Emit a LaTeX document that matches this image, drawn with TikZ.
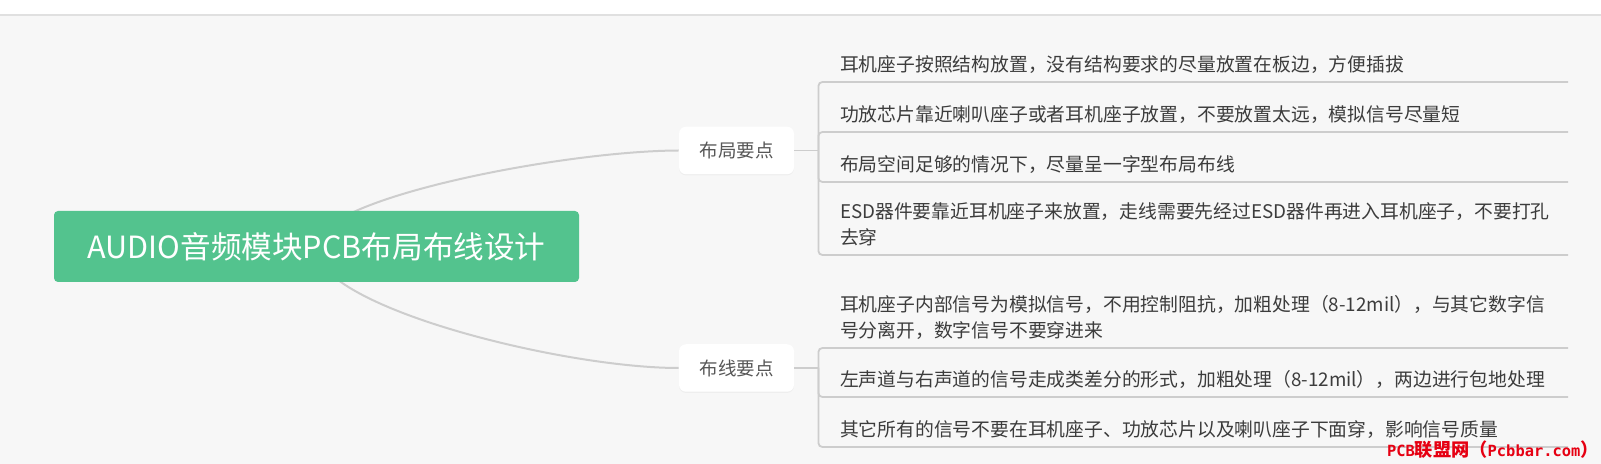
\documentclass[tikz,border=0pt]{standalone}
\usepackage{fontspec}
\newfontfamily\cjkfont{Noto Sans CJK SC}
\newfontfamily\monofont{DejaVu Sans Mono}
\usepackage{tikz}
\usetikzlibrary{positioning}
\usetikzlibrary{backgrounds}
\usetikzlibrary{shadows}

\definecolor{pagebg}{HTML}{F7F7F7}
\definecolor{bandline}{HTML}{E0E0E0}
\definecolor{rootgreen}{HTML}{53C38E}
\definecolor{linkgray}{HTML}{CDCDCD}
\definecolor{topictext}{HTML}{575757}
\definecolor{leaftext}{HTML}{3C3C3C}
\definecolor{markred}{HTML}{E60012}

\newcommand\leafstrut{\rule[-2.4pt]{0pt}{9pt}}
\newcommand\markmono{\monofont\bfseries\fontsize{7.7pt}{9pt}\selectfont}
\newcommand\markcjk{\cjkfont\bfseries\fontsize{9.1pt}{9pt}\selectfont}

\tikzset{
    root/.style={fill=rootgreen, rounded corners=2pt, text=white, minimum width=262.5pt, minimum height=35.5pt, inner sep=0pt, font=\cjkfont\fontsize{15.3pt}{18pt}\selectfont},
    topic/.style={fill=white, rounded corners=3.5pt, text=topictext, minimum width=57.5pt, minimum height=23.75pt, inner sep=0pt, font=\cjkfont\fontsize{9.25pt}{12pt}\selectfont, drop shadow={shadow xshift=0pt, shadow yshift=-0.6pt, opacity=0.07}},
    leaf/.style={anchor=south west, align=left, text width=353pt, inner xsep=11pt, inner ysep=2.6pt, outer sep=0pt, text=leaftext, font=\cjkfont\fontsize{9.4pt}{13pt}\selectfont, execute at end node=\leafstrut},
    link/.style={draw=linkgray, line width=1pt},
    leafline/.style={draw=linkgray, line width=0.9pt, rounded corners=2pt},
}

\begin{document}
\begin{tikzpicture}[x=0.5pt, y=-0.5pt]
    \useasboundingbox (0,0) rectangle (1601,464);

    \node [root] (root) at (316.5,246.5) {AUDIO音频模块PCB布局布线设计};

    \node [topic] (t1) at (736.5,150.5) {布局要点};
    \node [topic] (t2) at (736.5,368) {布线要点};

    \coordinate [right=12pt of t1] (j1);
    \coordinate [right=12pt of t2] (j2);

    \node [leaf] (l1) at (818,82) {耳机座子按照结构放置，没有结构要求的尽量放置在板边，方便插拔};
    \node [leaf] (l2) at (818,132) {功放芯片靠近喇叭座子或者耳机座子放置，不要放置太远，模拟信号尽量短};
    \node [leaf] (l3) at (818,182) {布局空间足够的情况下，尽量呈一字型布局布线};
    \node [leaf] (l4) at (818,255) {ESD器件要靠近耳机座子来放置，走线需要先经过ESD器件再进入耳机座子，不要打孔\\去穿};

    \node [leaf] (l5) at (818,348) {耳机座子内部信号为模拟信号，不用控制阻抗，加粗处理（8-12mil），与其它数字信\\号分离开，数字信号不要穿进来};
    \node [leaf] (l6) at (818,397) {左声道与右声道的信号走成类差分的形式，加粗处理（8-12mil），两边进行包地处理};
    \node [leaf] (l7) at (818,447) {其它所有的信号不要在耳机座子、功放芯片以及喇叭座子下面穿，影响信号质量};

    \draw [leafline] (t1) -- (j1);
    \foreach \l in {l1,l2,l3,l4}
        \draw [leafline] (j1) |- (\l.south east);

    \draw [leafline] (t2) -- (j2);
    \foreach \l in {l5,l6,l7}
        \draw [leafline] (j2) |- (\l.south east);

    \begin{scope}[on background layer]
        \fill [pagebg] (0,0) rectangle (1601,464);
        \fill [white] (0,0) rectangle (1601,15);
        \draw [bandline, line width=1pt] (0,15) -- (1601,15);
        \draw [link] (root.center) .. controls (310,200) and (560,151) .. (t1.west);
        \draw [link] (root.center) .. controls (310,305) and (560,368) .. (t2.west);
    \end{scope}

    \node [anchor=base east, inner sep=0pt, text=markred] (mark) at (1599,456.5) {\markmono PCB\markcjk 联盟网（\markmono Pcbbar.com\markcjk ）};
\end{tikzpicture}
\end{document}
